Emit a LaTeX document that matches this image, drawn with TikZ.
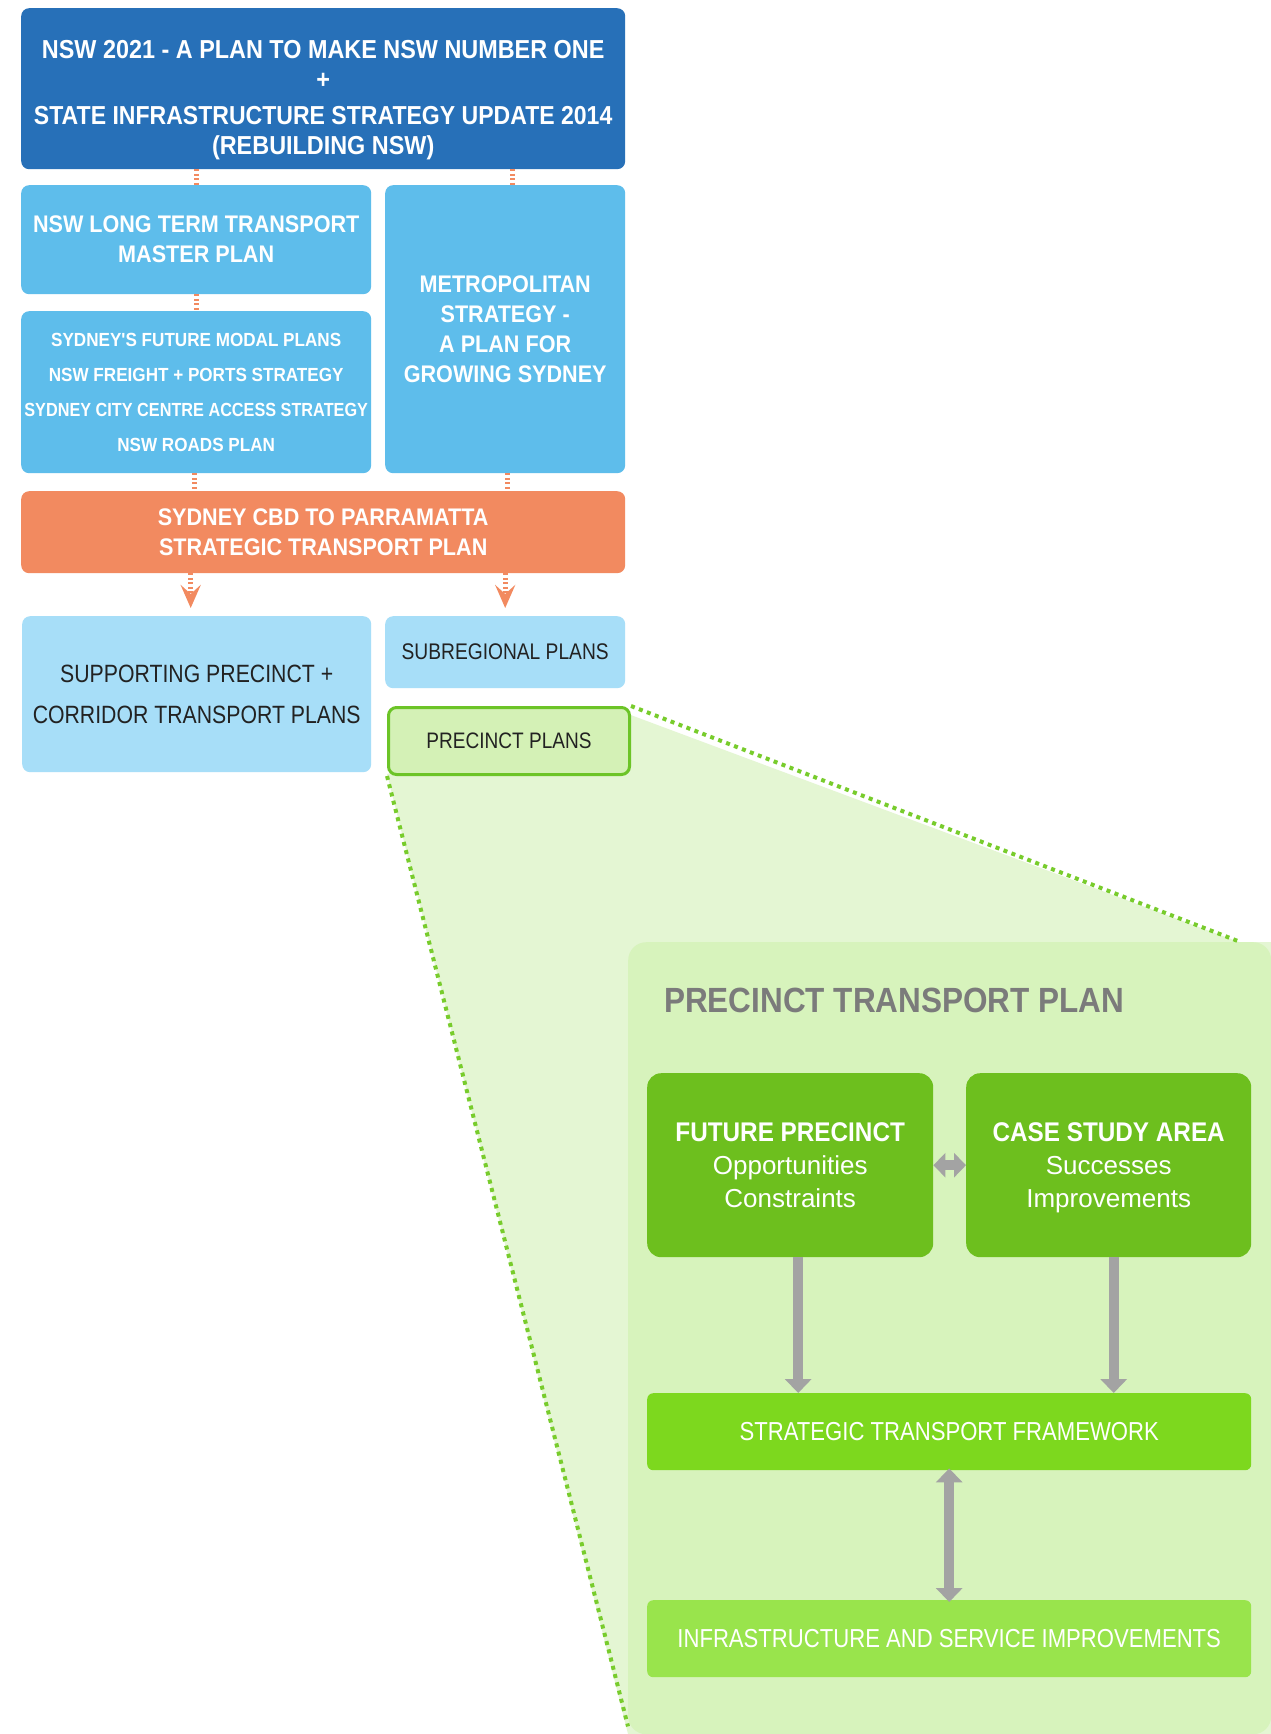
\documentclass[tikz,border=0pt]{standalone}
\usepackage{graphicx}
\usepackage{fontspec}
\setmainfont{Liberation Sans}
\newfontfamily\condb[FakeStretch=0.9]{Liberation Sans}
\newfontfamily\condr[FakeStretch=0.85]{Liberation Sans}
\usetikzlibrary{arrows.meta}
\definecolor{dblue}{HTML}{2770B8}
\definecolor{mblue}{HTML}{5EBDEB}
\definecolor{lblue}{HTML}{A7DEF8}
\definecolor{oran}{HTML}{F28A60}
\definecolor{gdark}{HTML}{6DBF1E}
\definecolor{gmid}{HTML}{7DD81E}
\definecolor{glight}{HTML}{99E44C}
\definecolor{gpanel}{HTML}{D7F3BC}
\definecolor{gfan}{HTML}{E4F6D3}
\definecolor{gplan}{HTML}{D4F1B6}
\definecolor{gbord}{HTML}{6CC427}
\definecolor{gdot}{HTML}{78CC2C}
\definecolor{tgray}{HTML}{7B7B7B}
\definecolor{agray}{HTML}{A3A3A3}
\definecolor{dtext}{HTML}{222222}
\tikzset{
  box/.style={rectangle, rounded corners=8pt, anchor=north west, inner sep=0pt, align=center, text=white},
  hbold/.style={font=\condb\bfseries\fontsize{24}{30}\selectfont},
  ostub/.style={draw=oran, line width=5pt, dash pattern=on 2pt off 2.5pt},
  oarrow/.style={draw=oran, line width=5pt, dash pattern=on 2pt off 2.5pt, shorten >=8pt, -{Stealth[length=23pt,width=20pt,inset=9pt,sep=0pt]}},
  garrow/.style={draw=agray, line width=10pt, -{Triangle[length=14pt,width=26pt]}},
  gdbl/.style={draw=agray, line width=10pt, {Triangle[length=14pt,width=26pt]}-{Triangle[length=14pt,width=26pt]}},
  gdot/.style={draw=gdot, line width=4pt, dash pattern=on 4pt off 4.5pt},
}
\begin{document}
\begin{tikzpicture}[x=1pt,y=-1pt]
\useasboundingbox (0,0) rectangle (1271,1734);
\fill[white] (0,0) rectangle (1271,1734);

% upper hierarchy
\node[box, fill=dblue, minimum width=604, minimum height=161, font=\condb\bfseries\fontsize{26}{30}\selectfont] (top) at (21,8)
  {\rule{0pt}{40pt}NSW 2021 - A PLAN TO MAKE NSW NUMBER ONE\\ +\\[6pt] \scalebox{0.985}[1]{STATE INFRASTRUCTURE STRATEGY UPDATE 2014}\\ (REBUILDING NSW)};
\node[box, fill=mblue, minimum width=350, minimum height=109, hbold] (lttmp) at (21,185)
  {NSW LONG TERM TRANSPORT\\ MASTER PLAN};
\node[box, fill=mblue, minimum width=240, minimum height=288, hbold] (metro) at (385,185)
  {METROPOLITAN\\ STRATEGY -\\ A PLAN FOR\\ GROWING SYDNEY};
\node[box, fill=mblue, minimum width=350, minimum height=162, font=\condb\bfseries\fontsize{19}{35}\selectfont] (modal) at (21,311)
  {SYDNEY'S FUTURE MODAL PLANS\\ NSW FREIGHT + PORTS STRATEGY\\ \scalebox{0.95}[1]{SYDNEY CITY CENTRE ACCESS STRATEGY}\\ NSW ROADS PLAN};
\node[box, fill=oran, minimum width=604, minimum height=82, hbold] (cbd) at (21,491)
  {SYDNEY CBD TO PARRAMATTA\\ STRATEGIC TRANSPORT PLAN};
\node[box, fill=lblue, minimum width=349, minimum height=156, text=dtext, font=\condr\fontsize{25}{41}\selectfont] (support) at (22,616)
  {SUPPORTING PRECINCT +\\ CORRIDOR TRANSPORT PLANS};
\node[box, fill=lblue, minimum width=240, minimum height=72, text=dtext, font=\condr\fontsize{22.6}{26}\selectfont] (subreg) at (385,616)
  {SUBREGIONAL PLANS};

% fan
\fill[gfan] (387,774) -- (628,714) -- (1239,942) -- (1271,942) -- (1271,1734) -- (628,1734) -- cycle;

\node[box, fill=gplan, draw=gbord, line width=3pt, minimum width=241, minimum height=67, text=dtext, font=\condr\fontsize{22.4}{26}\selectfont] (precinct) at (387,706)
  {PRECINCT PLANS};

\node[box, fill=gpanel, rounded corners=18pt, minimum width=643, minimum height=792] (panel) at (628,942) {};
\coordinate (pnltr) at ([xshift=-31pt]panel.north east);

\draw[gdot] (precinct.north east) -- (pnltr);
\draw[gdot] (precinct.south west) -- ([yshift=8pt]panel.south west);

\node[anchor=west, inner sep=0pt, text=tgray, font=\condb\bfseries\fontsize{35}{40}\selectfont] (title) at (664,1000) {PRECINCT TRANSPORT PLAN};

\node[box, fill=gdark, rounded corners=14pt, minimum width=286, minimum height=184, font=\fontsize{26}{33}\selectfont] (future) at (647,1073)
  {{\condb\bfseries\fontsize{27}{33}\selectfont FUTURE PRECINCT}\\ Opportunities\\ Constraints};
\node[box, fill=gdark, rounded corners=14pt, minimum width=285, minimum height=184, font=\fontsize{26}{33}\selectfont] (case) at (966,1073)
  {{\condb\bfseries\fontsize{27}{33}\selectfont CASE STUDY AREA}\\ Successes\\ \raisebox{0pt}[\height][0.5pt]{Improvements}};
\node[box, fill=gmid, rounded corners=6pt, minimum width=604, minimum height=77, font=\condr\fontsize{26}{30}\selectfont] (strategic) at (647,1393)
  {STRATEGIC TRANSPORT FRAMEWORK};
\node[box, fill=glight, rounded corners=6pt, minimum width=604, minimum height=77, font=\condr\fontsize{26}{30}\selectfont] (infra) at (647,1600)
  {INFRASTRUCTURE AND SERVICE IMPROVEMENTS};

% orange connectors
\draw[ostub] (lttmp.north |- top.south) -- (lttmp.north);
\draw[ostub] ([xshift=7pt]metro.north |- top.south) -- ([xshift=7pt]metro.north);
\draw[ostub] (lttmp.south) -- (modal.north);
\draw[ostub] ([xshift=-2pt]modal.south) -- ([xshift=-2pt]modal.south |- cbd.north);
\draw[ostub] ([xshift=2pt]metro.south) -- ([xshift=2pt]metro.south |- cbd.north);
\draw[oarrow] ([xshift=-6pt]support.north |- cbd.south) -- ([xshift=-6pt]support.north);
\draw[oarrow] (subreg.north |- cbd.south) -- (subreg.north);

% gray arrows
\draw[garrow] ([xshift=8pt]future.south) -- ([xshift=8pt]future.south |- strategic.north);
\draw[garrow] ([xshift=5pt]case.south) -- ([xshift=5pt]case.south |- strategic.north);
\draw[gdbl] ([yshift=2pt]strategic.south) -- ([yshift=-2pt]infra.north);
\draw[draw=agray, line width=10pt, {Triangle[length=12pt,width=24pt]}-{Triangle[length=12pt,width=24pt]}] (future.east) -- (case.west);
\end{tikzpicture}
\end{document}
